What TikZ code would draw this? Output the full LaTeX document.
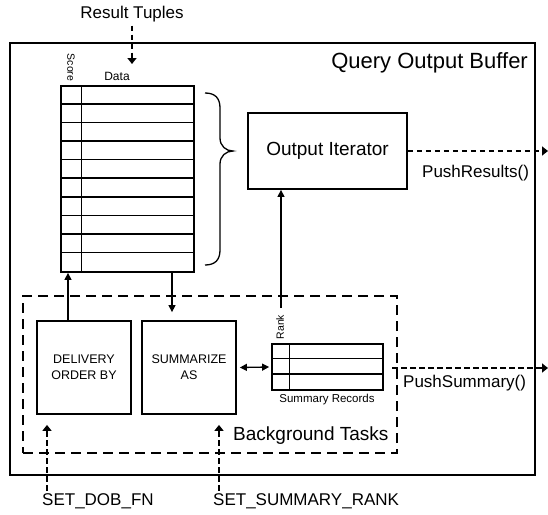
\documentclass[tikz,border=0pt]{standalone}
\usepackage{fontspec}
\setmainfont{Liberation Sans}
\usetikzlibrary{arrows.meta,calc}
\begin{document}
\begin{tikzpicture}[x=1pt,y=-1pt,
  box/.style={draw,line width=1.8pt,inner sep=0pt},
  thin/.style={line width=1.6pt},
  arr/.style={line width=1.3pt,-{Triangle[length=7pt,width=7pt]}},
  dbl/.style={line width=1.3pt,{Triangle[length=7pt,width=7pt]}-{Triangle[length=7pt,width=7pt]}},
  dots/.style={line width=2.6pt,dash pattern=on 5.5pt off 3.5pt,-{Triangle[length=6pt,width=9pt]}},
  bigf/.style={font=\fontsize{22}{26}\selectfont},
  midf/.style={font=\fontsize{19}{22}\selectfont},
  labf/.style={font=\fontsize{17}{20}\selectfont},
  smf/.style={font=\fontsize{12.5}{16}\selectfont},
  tinyf/.style={font=\fontsize{10.5}{12}\selectfont},
  txt/.style={inner sep=0pt}
]
\useasboundingbox (0,0) rectangle (548,514);
% outer buffer
\node[box,minimum width=525,minimum height=432] (buffer) at (272.5,259) {};
\node[txt,bigf,anchor=base east] (qob) at (528,68) {Query Output Buffer};
% background tasks
\node[draw,line width=1.6pt,dash pattern=on 10pt off 6pt,minimum width=374,minimum height=157,inner sep=0pt] (bg) at (210,374.5) {};
\node[txt,midf,anchor=base west] (bgt) at (233,440) {Background Tasks};
% data table
\node[box,minimum width=133,minimum height=186] (data) at (127.5,179) {};
\foreach \i in {1,...,9} \draw[thin] ($(data.north west)+(0,18.6*\i)$) -- ($(data.north east)+(0,18.6*\i)$);
\draw[line width=1.2pt] ($(data.north west)+(21,0)$) -- ($(data.south west)+(21,0)$);
\node[txt,tinyf,rotate=-90] (score) at (71,67.5) {Score};
\node[txt,font=\fontsize{12}{14}\selectfont,anchor=base] (dlbl) at (117,80) {Data};
% brace
\draw[line width=1.3pt] (205,93) .. controls (215,93) and (220,98) .. (220,108) -- (220,138) .. controls (220,146) and (226,151) .. (233,151) .. controls (226,151) and (220,156) .. (220,164) -- (220,250) .. controls (220,260) and (215,265) .. (205,265);
% output iterator
\node[box,minimum width=159,minimum height=76,midf] (oi) at (327.5,151) {Output Iterator};
% delivery / summarize
\node[box,minimum width=94,minimum height=93,smf,align=center] (dob) at (84,367.5) {DELIVERY\\ORDER BY};
\node[box,minimum width=94,minimum height=93,smf,align=center] (sum) at (189,367.5) {SUMMARIZE\\AS};
% summary records table
\node[box,minimum width=111,minimum height=46] (sr) at (327.5,367) {};
\draw[thin] ($(sr.north west)+(0,15.3)$) -- ($(sr.north east)+(0,15.3)$);
\draw[thin] ($(sr.north west)+(0,30.7)$) -- ($(sr.north east)+(0,30.7)$);
\draw[line width=1.2pt] ($(sr.north west)+(18,0)$) -- ($(sr.south west)+(18,0)$);
\node[txt,tinyf,rotate=90] (rank) at (280,327) {Rank};
\node[txt,font=\fontsize{11.5}{14}\selectfont,anchor=base] (srl) at (327,402) {Summary Records};
% external labels
\node[txt,labf,anchor=base] (rt) at (132,18) {Result Tuples};
\node[txt,labf,anchor=base west] (pres) at (422,177) {PushResults()};
\node[txt,labf,anchor=base west] (psum) at (403,387) {PushSummary()};
\node[txt,labf,anchor=base west] (sdob) at (42,505) {SET\_DOB\_FN};
\node[txt,labf,anchor=base west] (ssr) at (213,505) {SET\_SUMMARY\_RANK};
% connectors
\coordinate (rtend) at (132,64);
\draw[dots] ($(rt.south)+(0,4)$) -- (rtend);
\coordinate (dobup) at ($(dob.north)+(-16,0)$);
\draw[arr] (dobup) -- (dobup |- data.south);
\coordinate (sumdn) at ($(sum.north)+(-17,-8)$);
\draw[arr] (sumdn |- data.south) -- (sumdn);
\draw[dbl] ($(sum.east)+(3,0)$) -- ($(sr.west)+(-2,0)$);
\coordinate (rk) at (281,308);
\draw[arr] (rk) -- (rk |- oi.south);
\coordinate (prend) at (548,151);
\draw[dots] (oi.east) -- (prend);
\coordinate (psstart) at (392,368);
\coordinate (psend) at (548,368);
\draw[dots] (psstart) -- (psend);
\draw[dots] ($(sdob.north west)+(5,-2)$) -- ($(dob.south)+(-37,10)$);
\draw[dots] ($(ssr.north west)+(6,-2)$) -- ($(sum.south)+(30,10)$);
\end{tikzpicture}
\end{document}
